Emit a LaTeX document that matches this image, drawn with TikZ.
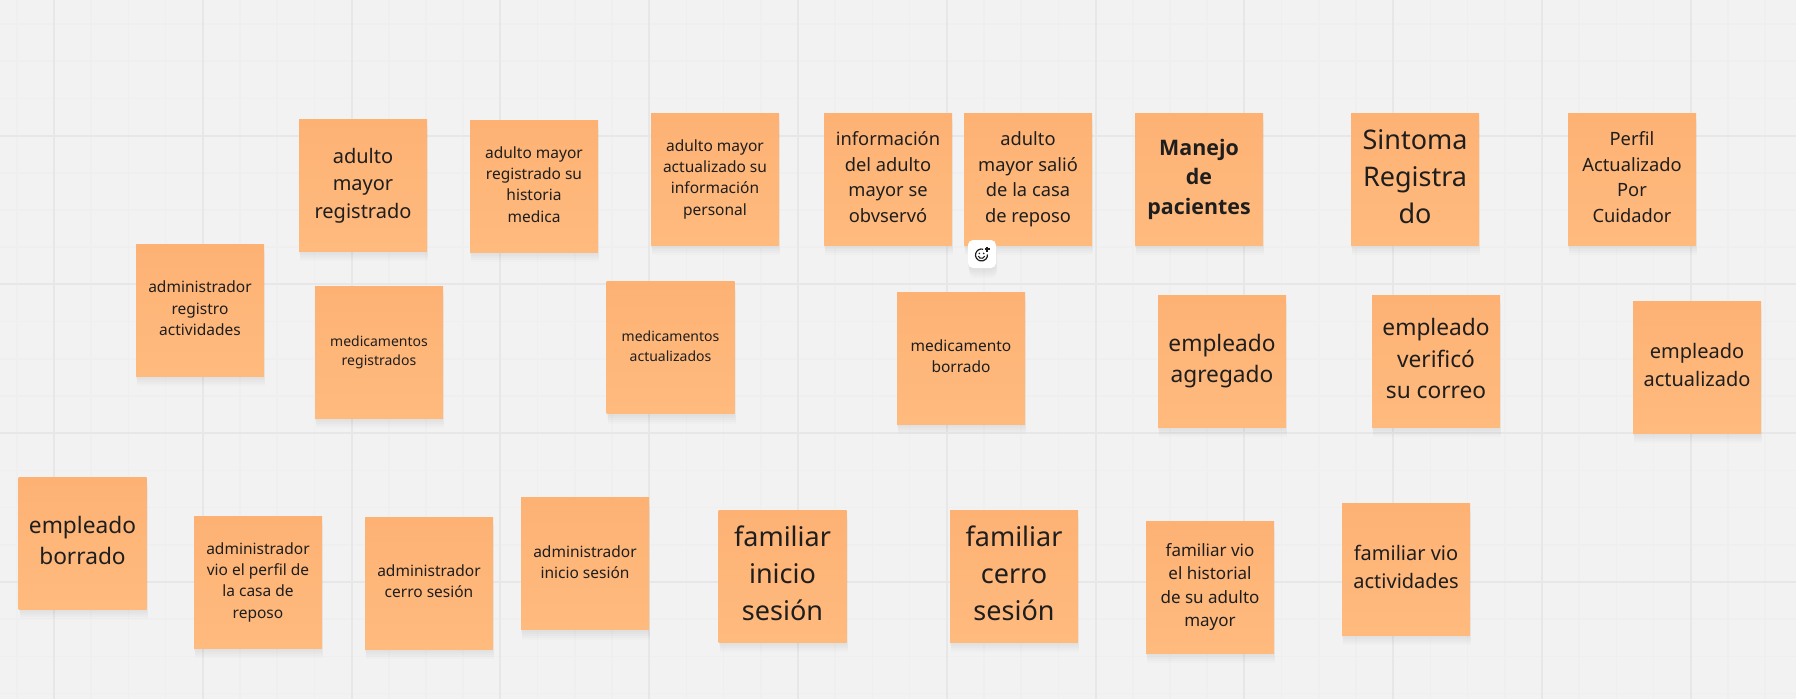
\documentclass[tikz,border=0pt]{standalone}
\usepackage{fontspec}
\setmainfont{Noto Sans}
\newfontfamily\headfont{Open Sans}
\usetikzlibrary{shadows}
\definecolor{boardbg}{HTML}{F2F2F2}
\definecolor{gridminor}{HTML}{EFEFEF}
\definecolor{gridmajor}{HTML}{E7E7E7}
\definecolor{notetop}{HTML}{FDB274}
\definecolor{notebot}{HTML}{FFBA7E}
\definecolor{inktext}{HTML}{1E1E1E}
\newcommand{\sz}[2]{\fontsize{#1}{#2}\selectfont}
\newcommand{\lns}[1]{\begin{tabular}{@{}c@{}}#1\end{tabular}}
\tikzset{
  softshadow/.style={
    general shadow={fill=black,opacity=.012,shadow xshift=1pt,shadow yshift=-10pt},
    general shadow={fill=black,opacity=.014,shadow xshift=1pt,shadow yshift=-8pt},
    general shadow={fill=black,opacity=.016,shadow xshift=1pt,shadow yshift=-6pt},
    general shadow={fill=black,opacity=.016,shadow yshift=-4pt},
    general shadow={fill=black,opacity=.012,shadow yshift=-2pt}},
  note/.style={softshadow,minimum width=128pt,minimum height=132pt,inner sep=0pt,
    top color=notetop,bottom color=notebot,text=inktext},
  darkedge/.style={general shadow={fill=black,opacity=.12,shadow yshift=-1pt}},
  fsxs/.style={font=\sz{14}{19.8}},
  fss/.style={font=\sz{15.5}{21.3}},
  fsh/.style={font=\sz{17}{23.4}},
  fsm/.style={font=\sz{18.3}{25.4}},
  fsl/.style={font=\sz{20}{27.5}},
  fsb/.style={font=\headfont\bfseries\sz{21.4}{29.3}},
  fsxl/.style={font=\sz{22.7}{31.3}},
  fsxx/.style={font=\sz{27}{36.7}},
  gridthin/.style={gridminor,line width=1.5pt},
  gridwide/.style={gridmajor,line width=2pt}
}
\begin{document}
\begin{tikzpicture}[x=1pt,y=-1pt]
\useasboundingbox (0,0) rectangle (1796,699);
\fill [boardbg] (0,0) rectangle (1796,699);
% board grid
\foreach \k in {0,...,48} \draw [gridthin] ({16.8+37.2*\k},0) -- ({16.8+37.2*\k},699);
\foreach \k in {0,...,18} \draw [gridthin] (0,{24+37.2*\k}) -- (1796,{24+37.2*\k});
\foreach \k in {0,...,11} \draw [gridwide] ({54+148.8*\k},0) -- ({54+148.8*\k},699);
\foreach \k in {0,...,3} \draw [gridwide] (0,{135.6+148.8*\k}) -- (1796,{135.6+148.8*\k});

% first row
\node [note,darkedge,fsl] (regist) at (363,185) {\lns{adulto\\mayor\\registrado}};
\node [note,fss] (histor) at (534,186) {\lns{adulto mayor\\registrado su\\historia\\medica}};
\node [note,fss] (person) at (715,179) {\lns{adulto mayor\\actualizado su\\información\\personal}};
\node [note,fsm] (obsrv) at (888,179) {\lns{información\\del adulto\\mayor se\\obvservó}};
\node [note,fsm] (salio) at (1028,179) {\lns{adulto\\mayor salió\\de la casa\\de reposo}};
\node [note,fsb] (manejo) at (1199,179) {\lns{Manejo\\de\\pacientes}};
\node [note,fsxx] (sintoma) at (1415,179) {\lns{Sintoma\\Registra\\do}};
\node [note,fsm] (perfil) at (1632,179) {\lns{Perfil\\Actualizado\\Por\\Cuidador}};

% second row
\node [note,fss] (admreg) at (200,310) {\lns{administrador\\registro\\actividades}};
\node [note,fsxs] (medreg) at (379,352) {\lns{medicamentos\\registrados}};
\node [note,fsxs] (medact) at (670.5,347.5) {\lns{medicamentos\\actualizados}};
\node [note,fss] (medbor) at (961,358) {\lns{medicamento\\borrado}};
\node [note,fsxl] (empagr) at (1222,361) {\lns{empleado\\agregado}};
\node [note,fsxl] (empver) at (1436,361) {\lns{empleado\\verificó\\su correo}};
\node [note,fsl] (empact) at (1697,367) {\lns{empleado\\actualizado}};

% third row
\node [note,fsxl] (empbor) at (82.5,543) {\lns{empleado\\borrado}};
\node [note,darkedge,fss] (admvio) at (258,582) {\lns{administrador\\vio el perfil de\\la casa de\\reposo}};
\node [note,fss] (admcer) at (429,583) {\lns{administrador\\cerro sesión}};
\node [note,fss] (admini) at (585,563.5) {\lns{administrador\\inicio sesión}};
\node [note,fsxx] (famini) at (782.5,576) {\lns{familiar\\inicio\\sesión}};
\node [note,fsxx] (famcer) at (1014,576) {\lns{familiar\\cerro\\sesión}};
\node [note,fsh] (famhis) at (1210,587) {\lns{familiar vio\\el historial\\de su adulto\\mayor}};
\node [note,fsl] (famact) at (1406,569) {\lns{familiar vio\\actividades}};

% reaction button
\node [softshadow,fill=white,rounded corners=5pt,minimum size=28pt,inner sep=0pt] (react) at (982,254) {};
\draw [inktext,line width=1.2pt] ([xshift=1.05pt,yshift=4.8pt]react.center) arc (-75:-365:6);
\draw [inktext,line width=1.1pt] ([xshift=-3.7pt,yshift=-2.16pt]react.center) arc (-200:-340:3.4);
\fill [inktext] ([xshift=-2.7pt,yshift=.6pt]react.center) circle (.9);
\fill [inktext] ([xshift=1.7pt,yshift=.6pt]react.center) circle (.9);
\draw [inktext,line width=1.1pt] ([xshift=2.5pt,yshift=5pt]react.center) -- ([xshift=7.5pt,yshift=5pt]react.center);
\draw [inktext,line width=1.1pt] ([xshift=5pt,yshift=2.5pt]react.center) -- ([xshift=5pt,yshift=7.5pt]react.center);
\end{tikzpicture}
\end{document}
